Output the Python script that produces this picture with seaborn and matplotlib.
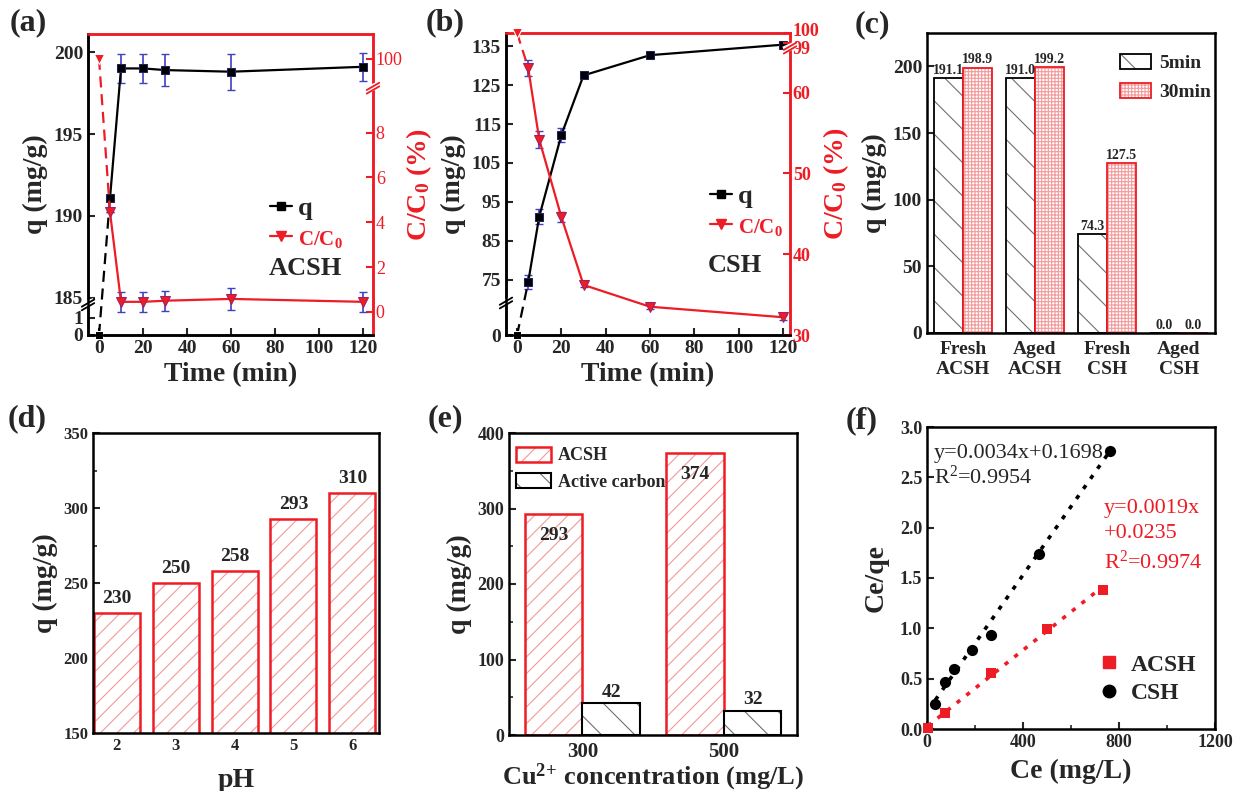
import numpy as np
import pandas as pd
import matplotlib
matplotlib.use("Agg")
import matplotlib.pyplot as plt
import matplotlib.colors as mcolors
import matplotlib.transforms as mtransforms
from matplotlib.lines import Line2D
from matplotlib.ticker import MultipleLocator, FixedLocator, FormatStrFormatter
import seaborn as sns

# ---------------- data ----------------
# (a) ACSH kinetics
t_a = [0, 5, 10, 20, 30, 60, 120]
q_a = [0, 191.1, 199.0, 199.0, 198.9, 198.8, 199.1]
q_a_err = [0, 0, 0.9, 0.9, 0.95, 1.1, 0.85]
c_a = [100, 4.45, 0.45, 0.45, 0.5, 0.58, 0.45]
c_a_err = [0, 0, 0.45, 0.45, 0.45, 0.5, 0.45]
# (b) CSH kinetics
t_b = [0, 5, 10, 20, 30, 60, 120]
q_b = [0, 74.3, 91.2, 112.2, 127.5, 132.7, 135.4]
q_b_err = [0, 1.8, 2.0, 1.7, 0.5, 0.5, 0.5]
c_b = [100, 63.1, 54.2, 44.6, 36.2, 33.5, 32.2]
c_b_err = [0, 1.0, 1.1, 0.6, 0.3, 0.3, 0.3]
# (c) fresh / aged
cat_c = ["Fresh\nACSH", "Aged\nACSH", "Fresh\nCSH", "Aged\nCSH"]
q_5min = [191.1, 191.0, 74.3, 0.0]
q_30min = [198.9, 199.2, 127.5, 0.0]
# (d) pH
ph_levels = ["2", "3", "4", "5", "6"]
q_ph = [230, 250, 258, 293, 310]
# (e) Cu2+ concentration
conc = ["300", "500"]
q_acsh_e = [293, 374]
q_ac_e = [42, 32]
# (f) Langmuir
ce_csh = [35, 77, 112, 186, 265, 467, 764]
ceqe_csh = [0.25, 0.47, 0.60, 0.78, 0.93, 1.74, 2.76]
ce_acsh = [4, 77, 266, 500, 734]
ceqe_acsh = [0.01, 0.16, 0.56, 0.99, 1.38]
fit_csh = (0.0034, 0.1698)
fit_acsh = (0.0019, 0.0235)

# ---------------- style ----------------
sns.set_theme(style="ticks")
plt.rcParams["font.family"] = ["Liberation Serif", "DejaVu Serif"]
plt.rcParams["font.weight"] = "bold"
plt.rcParams["axes.labelweight"] = "bold"
plt.rcParams["mathtext.default"] = "regular"
plt.rcParams["hatch.linewidth"] = 0.8
plt.rcParams["xtick.direction"] = "in"
plt.rcParams["ytick.direction"] = "in"

RED = "#ee1c24"
PINK = "#f39a9a"
BLUE = "#4040c0"
W, H = 1233, 791

fig = plt.figure(figsize=(W / 100, H / 100), dpi=100)


def add_ax(x0, y0, x1, y1):
    return fig.add_axes([x0 / W, 1 - y1 / H, (x1 - x0) / W, (y1 - y0) / H])


def style_spines(ax, lw=1.8, color="black"):
    for s in ax.spines.values():
        s.set_linewidth(lw)
        s.set_color(color)


def draw_break(ax, xf, yf, color="black"):
    dx, dy, gap = 0.022, 0.012, 0.012
    ax.plot([xf - dx, xf + dx], [yf - dy / 2, yf + dy / 2 + gap / 2], transform=ax.transAxes,
            color="white", lw=5, clip_on=False, zorder=10, solid_capstyle="butt")
    for off in (-gap / 2, gap / 2):
        ax.plot([xf - dx, xf + dx], [yf - dy + off, yf + dy + off], transform=ax.transAxes,
                color=color, lw=1.3, clip_on=False, zorder=11)


def set_hatch(bar, hatch, edge, hcolor, lw=1.3):
    bar.set_hatch(hatch)
    bar.set_edgecolor(edge)
    bar.set_linewidth(lw)
    bar._hatch_color = mcolors.to_rgba(hcolor)


def kinetic_panel(ax, t, q, qerr, c, cerr, fq, iq, fc, ic, qlim, clim, qticks, cticks,
                  xlim, name, legend_xy, name_xy, breaks, rbold):
    ax.set_yscale("function", functions=(fq, iq))
    ax.errorbar(t[1:], q[1:], yerr=qerr[1:], fmt="none", ecolor=BLUE, elinewidth=1.2,
                capsize=3, zorder=3)
    sns.lineplot(x=t[:2], y=q[:2], ax=ax, color="black", linestyle=(0, (5, 3)), lw=1.6,
                 marker="s", markersize=6, markevery=[0], zorder=4, clip_on=False)
    sns.lineplot(x=t[1:], y=q[1:], ax=ax, color="black", lw=1.6, marker="s", markersize=6,
                 markeredgecolor="#202060", zorder=4)
    ax.set_ylim(*qlim)
    ax.set_xlim(*xlim)
    ax.yaxis.set_major_locator(FixedLocator(qticks))
    ax.yaxis.set_minor_locator(FixedLocator([]))
    ax.set_xticks([0, 20, 40, 60, 80, 100, 120])
    ax.tick_params(labelsize=14, width=1.5, length=5)
    ax.set_ylabel("q (mg/g)", fontsize=20, labelpad=4)
    ax.set_xlabel("Time (min)", fontsize=20, labelpad=4)

    ax2 = ax.twinx()
    ax2.set_yscale("function", functions=(fc, ic))
    ax2.errorbar(t[1:], c[1:], yerr=cerr[1:], fmt="none", ecolor=BLUE, elinewidth=1.2,
                 capsize=3, zorder=3)
    sns.lineplot(x=t[:2], y=c[:2], ax=ax2, color=RED, linestyle=(0, (5, 3)), lw=1.6,
                 marker="v", markersize=7, markevery=[0], zorder=4, clip_on=False)
    sns.lineplot(x=t[1:], y=c[1:], ax=ax2, color=RED, lw=1.6, marker="v", markersize=7,
                 markeredgecolor="#a02060", zorder=4)
    ax2.set_ylim(*clim)
    ax2.yaxis.set_major_locator(FixedLocator(cticks))
    ax2.yaxis.set_minor_locator(FixedLocator([]))
    ax2.tick_params(axis="y", colors=RED, labelsize=13, width=1.5, length=5, pad=2)
    for lab in ax2.get_yticklabels():
        lab.set_fontweight("bold" if rbold else "normal")
    ax2.set_ylabel("C/C$_0$ (%)", fontsize=20, color=RED, labelpad=1)

    for a in (ax, ax2):
        style_spines(a)
        a.spines["top"].set_color(RED)
        a.spines["right"].set_color(RED)

    h = [Line2D([], [], color="black", marker="s", lw=1.6, markersize=6),
         Line2D([], [], color=RED, marker="v", lw=1.6, markersize=7)]
    leg = ax2.legend(h, ["q", "C/C$_0$"], loc="center left", bbox_to_anchor=legend_xy,
                     frameon=False, handlelength=0.8, handletextpad=0.25, labelspacing=0.25,
                     borderpad=0, borderaxespad=0, prop={"size": 19, "weight": "bold"})
    leg.get_texts()[1].set_color(RED)
    leg.get_texts()[1].set_fontsize(15)
    ax2.text(name_xy[0], name_xy[1], name, transform=ax2.transAxes, fontsize=19,
             fontweight="bold", va="center", ha="left")
    draw_break(ax, 0.0, breaks[0])
    draw_break(ax2, 1.0, breaks[1], color=RED)
    return ax2


# ---- (a) ----
def fq_a(v):
    v = np.asarray(v, float)
    return np.where(v >= 185, v, np.where(v >= 1, 183.78 + (v - 1) * (1.22 / 184), 182.74 + 1.04 * v))


def iq_a(y):
    y = np.asarray(y, float)
    return np.where(y >= 185, y, np.where(y >= 183.78, 1 + (y - 183.78) * 184 / 1.22, (y - 182.74) / 1.04))


def fc_a(v):
    v = np.asarray(v, float)
    return np.where(v <= 9.9, v, 9.9 + (v - 9.9) * (1.4 / 90.1))


def ic_a(y):
    y = np.asarray(y, float)
    return np.where(y <= 9.9, y, 9.9 + (y - 9.9) * 90.1 / 1.4)


ax_a = add_ax(88, 34, 373, 335)
kinetic_panel(ax_a, t_a, q_a, q_a_err, c_a, c_a_err, fq_a, iq_a, fc_a, ic_a,
              (0, 201.1), (-1.03, 170.8), [0, 1, 185, 190, 195, 200], [0, 2, 4, 6, 8, 100],
              (-5, 124.5), "ACSH", (0.64, 0.37), (0.635, 0.22), (0.1, 0.82), False)

# ---- (b) ----
def fq_b(v):
    v = np.asarray(v, float)
    return np.where(v >= 69, v, 60.75 + v * (8.25 / 69))


def iq_b(y):
    y = np.asarray(y, float)
    return np.where(y >= 69, y, (y - 60.75) * 69 / 8.25)


EPS = 0.05 / 33


def fc_b(v):
    v = np.asarray(v, float)
    return np.where(v <= 65.6, v, np.where(v < 98.6, 65.6 + (v - 65.6) * EPS, 65.65 + (v - 98.6) * 1.24))


def ic_b(y):
    y = np.asarray(y, float)
    return np.where(y <= 65.6, y, np.where(y < 65.65, 65.6 + (y - 65.6) / EPS, 98.6 + (y - 65.65) / 1.24))


ax_b = add_ax(506, 33, 790, 335)
ax_b2 = kinetic_panel(ax_b, t_b, q_b, q_b_err, c_b, c_b_err, fq_b, iq_b, fc_b, ic_b,
                      (0, 138.4), (30, 100), [0, 75, 85, 95, 105, 115, 125, 135],
                      [30, 40, 50, 60, 99, 100],
                      (-5, 123.2), "CSH", (0.72, 0.41), (0.71, 0.23), (0.106, 0.95), True)
fig.canvas.draw()
labs = ax_b2.get_yticklabels()
labs[-1].set_transform(labs[-1].get_transform() + mtransforms.ScaledTranslation(0, 3 / 100, fig.dpi_scale_trans))
labs[-2].set_transform(labs[-2].get_transform() + mtransforms.ScaledTranslation(0, -4 / 100, fig.dpi_scale_trans))

# ---- (c) ----
ax_c = add_ax(927, 33, 1215, 333)
df_c = pd.DataFrame({"cat": cat_c * 2, "q": q_5min + q_30min,
                     "time": ["5min"] * 4 + ["30min"] * 4})
sns.barplot(data=df_c, x="cat", y="q", hue="time", palette={"5min": "white", "30min": "white"},
            width=0.8, errorbar=None, ax=ax_c, legend=False)
for b in ax_c.containers[0]:
    set_hatch(b, "\\", "black", "#707070")
for b in ax_c.containers[1]:
    set_hatch(b, "+++++", RED, PINK)
for cont in ax_c.containers:
    ax_c.bar_label(cont, fmt="%.1f", fontsize=10, fontweight="bold", padding=1)
ax_c.set_ylim(0, 225)
ax_c.set_yticks([0, 50, 100, 150, 200])
ax_c.tick_params(axis="y", labelsize=14, width=1.5, length=5)
ax_c.tick_params(axis="x", labelsize=14, length=0, pad=6)
ax_c.set_xlabel("")
ax_c.set_ylabel("q (mg/g)", fontsize=20, labelpad=4)
style_spines(ax_c)
ax_c.legend([ax_c.containers[0][0], ax_c.containers[1][0]], ["5min", "30min"],
            loc="upper left", bbox_to_anchor=(0.67, 0.93), frameon=False, borderpad=0,
            borderaxespad=0, prop={"size": 14, "weight": "bold"}, handlelength=1.6,
            handleheight=0.8, labelspacing=0.55, handletextpad=0.4)

# ---- (d) ----
ax_d = add_ax(93, 433, 379, 733)
sns.barplot(x=ph_levels, y=q_ph, color="white", width=0.78, errorbar=None, ax=ax_d)
for b in ax_d.containers[0]:
    set_hatch(b, "//", RED, PINK, lw=1.8)
ax_d.bar_label(ax_d.containers[0], fmt="%d", fontsize=14, fontweight="bold", padding=4)
ax_d.set_ylim(150, 350)
ax_d.set_xlim(-0.4, 4.45)
ax_d.yaxis.set_major_locator(MultipleLocator(50))
ax_d.yaxis.set_minor_locator(MultipleLocator(25))
ax_d.tick_params(axis="y", which="major", labelsize=12, width=1.5, length=5)
ax_d.tick_params(axis="y", which="minor", width=1.2, length=3)
ax_d.tick_params(axis="x", labelsize=12, width=1.5, length=4)
ax_d.set_xlabel("pH", fontsize=20, labelpad=10)
ax_d.set_ylabel("q (mg/g)", fontsize=20, labelpad=4)
style_spines(ax_d)

# ---- (e) ----
ax_e = add_ax(509, 433, 797, 735)
df_e = pd.DataFrame({"conc": conc * 2, "q": q_acsh_e + q_ac_e,
                     "mat": ["ACSH"] * 2 + ["Active carbon"] * 2})
sns.barplot(data=df_e, x="conc", y="q", hue="mat", palette={"ACSH": "white", "Active carbon": "white"},
            width=0.82, errorbar=None, ax=ax_e, legend=False)
for b in ax_e.containers[0]:
    set_hatch(b, "//", RED, PINK, lw=1.8)
for b in ax_e.containers[1]:
    set_hatch(b, "\\", "black", "#707070", lw=1.5)
ax_e.bar_label(ax_e.containers[0], fmt="%d", fontsize=14, fontweight="bold", padding=-22)
ax_e.bar_label(ax_e.containers[1], fmt="%d", fontsize=14, fontweight="bold", padding=2)
ax_e.set_ylim(0, 400)
ax_e.set_xlim(-0.52, 1.52)
ax_e.yaxis.set_major_locator(MultipleLocator(100))
ax_e.yaxis.set_minor_locator(MultipleLocator(50))
ax_e.tick_params(axis="y", which="major", labelsize=13, width=1.5, length=5)
ax_e.tick_params(axis="y", which="minor", width=1.2, length=3)
ax_e.tick_params(axis="x", labelsize=15, length=0, pad=5)
ax_e.set_xlabel("Cu$^{2}$$^{+}$ concentration (mg/L)", fontsize=19, labelpad=0)
ax_e.set_ylabel("q (mg/g)", fontsize=20, labelpad=4)
style_spines(ax_e)
ax_e.legend([ax_e.containers[0][0], ax_e.containers[1][0]], ["ACSH", "Active carbon"],
            loc="upper left", bbox_to_anchor=(0.025, 0.955), frameon=False, borderpad=0,
            borderaxespad=0, prop={"size": 13, "weight": "bold"}, handlelength=1.9,
            handleheight=0.9, labelspacing=0.5, handletextpad=0.4)

# ---- (f) ----
ax_f = add_ax(927, 427, 1215, 729)
xs_csh = np.array([min(ce_csh), max(ce_csh)], float)
xs_acsh = np.array([min(ce_acsh), max(ce_acsh)], float)
sns.lineplot(x=xs_csh, y=fit_csh[0] * xs_csh + fit_csh[1], ax=ax_f, color="black",
             lw=2.6, linestyle=(0, (1.2, 2.2)))
sns.lineplot(x=xs_acsh, y=fit_acsh[0] * xs_acsh + fit_acsh[1], ax=ax_f, color=RED,
             lw=2.6, linestyle=(0, (1.2, 2.2)))
sns.scatterplot(x=ce_acsh, y=ceqe_acsh, ax=ax_f, color=RED, marker="s", s=55,
                edgecolor=RED, linewidth=0, clip_on=False, zorder=5)
sns.scatterplot(x=ce_csh, y=ceqe_csh, ax=ax_f, color="black", marker="o", s=65,
                edgecolor="black", linewidth=0, clip_on=False, zorder=5)
ax_f.set_xlim(0, 1200)
ax_f.set_ylim(0, 3.0)
ax_f.xaxis.set_major_locator(MultipleLocator(400))
ax_f.xaxis.set_minor_locator(MultipleLocator(200))
ax_f.yaxis.set_major_locator(MultipleLocator(0.5))
ax_f.yaxis.set_major_formatter(FormatStrFormatter("%.1f"))
ax_f.tick_params(which="major", labelsize=13, width=1.5, length=5)
ax_f.tick_params(which="minor", width=1.2, length=3)
ax_f.set_xlabel("Ce (mg/L)", fontsize=20, labelpad=6)
ax_f.set_ylabel("Ce/qe", fontsize=20, labelpad=8)
style_spines(ax_f)
ax_f.text(0.025, 0.945, "y=0.0034x+0.1698\nR$^2$=0.9954", transform=ax_f.transAxes,
          fontsize=16, fontweight="normal", va="top", ha="left", linespacing=1.15)
ax_f.text(0.615, 0.76, "y=0.0019x\n+0.0235\nR$^2$=0.9974", transform=ax_f.transAxes,
          fontsize=16, fontweight="normal", va="top", ha="left", color=RED, linespacing=1.4)
hf = [Line2D([], [], color=RED, marker="s", ls="", markersize=8),
      Line2D([], [], color="black", marker="o", ls="", markersize=9)]
ax_f.legend(hf, ["ACSH", "CSH"], loc="center left", bbox_to_anchor=(0.6, 0.165),
            frameon=False, borderpad=0, borderaxespad=0, handlelength=0.8,
            prop={"size": 17, "weight": "bold"}, handletextpad=0.5, labelspacing=0.3)

# ---- panel labels ----
for lab, x, y in [("(a)", 10, 8), ("(b)", 426, 8), ("(c)", 855, 10),
                  ("(d)", 8, 404), ("(e)", 428, 404), ("(f)", 846, 406)]:
    fig.text(x / W, 1 - y / H, lab, fontsize=23, fontweight="bold", va="top", ha="left")

fig.savefig("out.png", dpi=100)
